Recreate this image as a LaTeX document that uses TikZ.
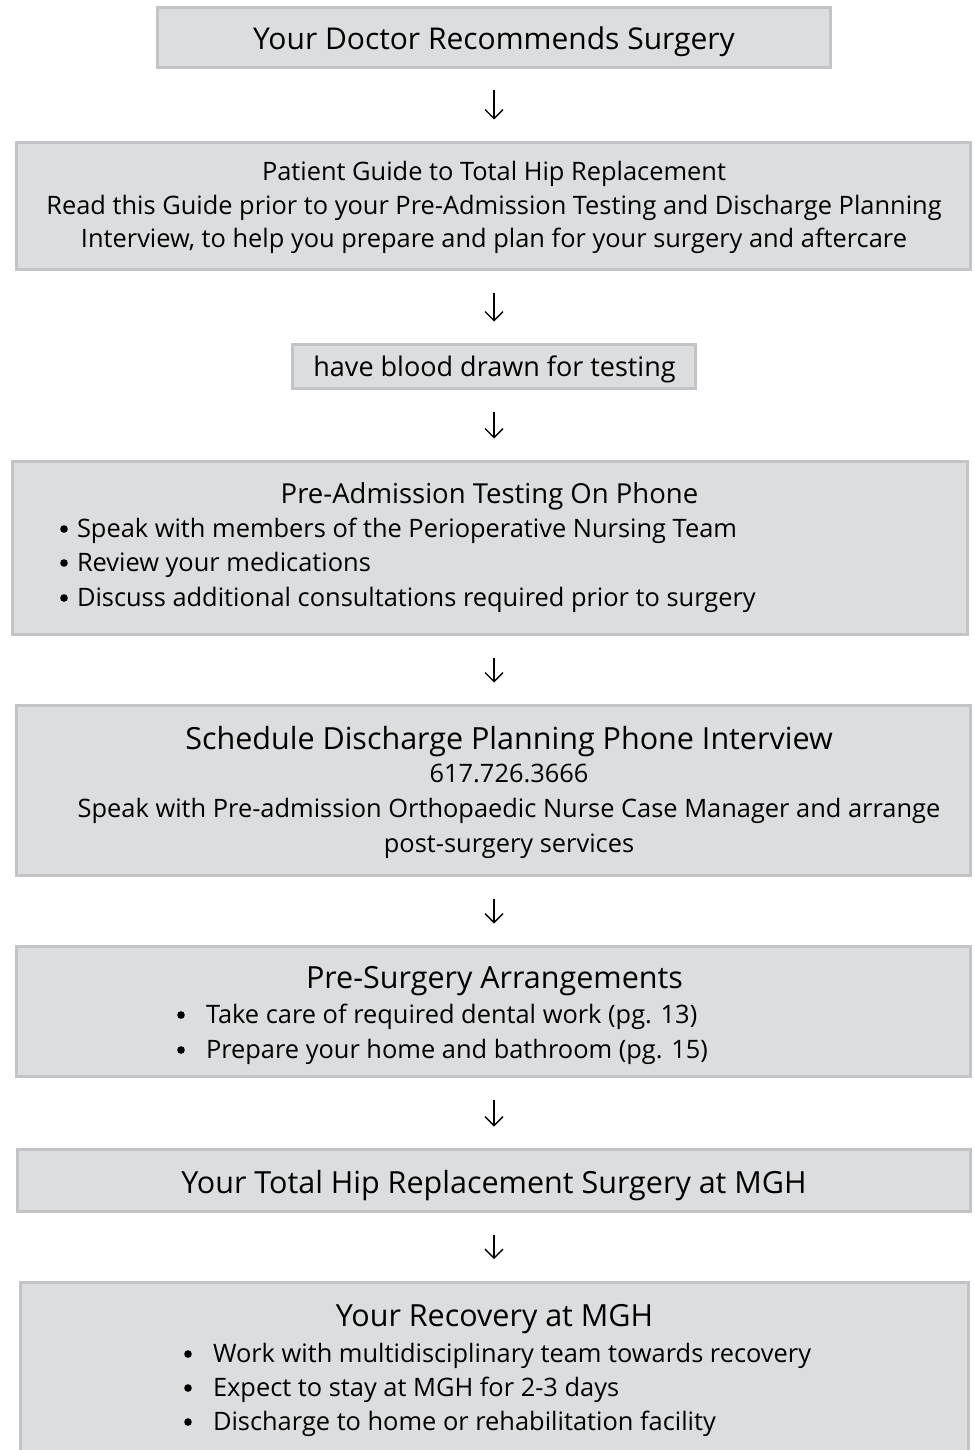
\documentclass[tikz,border=0pt]{standalone}
\usepackage{fontspec}
\setmainfont{Open Sans}
\usetikzlibrary{arrows.meta}
\definecolor{boxfill}{HTML}{DCDDDF}
\definecolor{boxline}{HTML}{C3C4C7}
\newcommand\setfs[1]{\fontsize{#1}{#1}\selectfont}
\begin{document}
\begin{tikzpicture}[x=1pt,y=-1pt,
  box/.style={draw=boxline, fill=boxfill, line width=3pt, inner sep=0pt, outer sep=0pt},
  txt/.style={inner sep=0pt, outer sep=0pt, anchor=mid, text=black},
  ltxt/.style={inner sep=0pt, outer sep=0pt, anchor=mid west, text=black},
  body/.style={font=\setfs{25.4}},
  head/.style={font=\setfs{30.5}},
  dot/.style={fill=black},
  flow/.style={line width=1.3pt, -{Straight Barb[length=9pt,width=18pt]}, shorten <=23pt, shorten >=23pt}]
\useasboundingbox (0,0) rectangle (974,1450);
% boxes
\node[box, minimum width=673pt, minimum height=60pt]  (b1) at (494,37.5) {};
\node[box, minimum width=954pt, minimum height=127pt] (b2) at (493.5,206) {};
\node[box, minimum width=403pt, minimum height=44pt]  (b3) at (494,366.5) {};
\node[box, minimum width=955pt, minimum height=173pt] (b4) at (490,548) {};
\node[box, minimum width=954pt, minimum height=170pt] (b5) at (493.5,790.5) {};
\node[box, minimum width=954pt, minimum height=130pt] (b6) at (493.5,1011.5) {};
\node[box, minimum width=953pt, minimum height=62pt]  (b7) at (494,1180.5) {};
\node[box, minimum width=948pt, minimum height=172pt] (b8) at (494.5,1368) {};
% texts
\node[txt, font=\setfs{30}] (t1) at (494,47) {Your Doctor Recommends Surgery};
\node[txt, body] (t2a) at (494,178) {Patient Guide to Total Hip Replacement};
\node[txt, body] (t2b) at (494,212) {Read this Guide prior to your Pre-Admission Testing and Discharge Planning};
\node[txt, body] (t2c) at (494,245) {Interview, to help you prepare and plan for your surgery and aftercare};
\node[txt, font=\setfs{27}] (t3) at (494.5,374) {have blood drawn for testing};
\node[txt, font=\setfs{27.5}] (t4) at (489.5,501) {Pre-Admission Testing On Phone};
\node[ltxt, body] (t4a) at (77,535) {Speak with members of the Perioperative Nursing Team};
\node[ltxt, body] (t4b) at (77,569) {Review your medications};
\node[ltxt, body] (t4c) at (77,604) {Discuss additional consultations required prior to surgery};
\node[txt, head] (t5) at (509,747) {Schedule Discharge Planning Phone Interview};
\node[txt, body] (t5a) at (509,780) {617.726.3666};
\node[txt, body] (t5b) at (509,815) {Speak with Pre-admission Orthopaedic Nurse Case Manager and arrange};
\node[txt, body] (t5c) at (509,850) {post-surgery services};
\node[txt, head] (t6) at (494.5,986) {Pre-Surgery Arrangements};
\node[ltxt, body] (t6a) at (206,1021) {Take care of required dental work (pg. 13)};
\node[ltxt, body] (t6b) at (206,1056) {Prepare your home and bathroom (pg. 15)};
\node[txt, head] (t7) at (494,1191) {Your Total Hip Replacement Surgery at MGH};
\node[txt, head] (t8) at (494.5,1324) {Your Recovery at MGH};
\node[ltxt, body] (t8a) at (213,1360) {Work with multidisciplinary team towards recovery};
\node[ltxt, body] (t8b) at (213,1394) {Expect to stay at MGH for 2-3 days};
\node[ltxt, body] (t8c) at (213,1428) {Discharge to home or rehabilitation facility};
% bullets
\foreach \t in {t4a,t4b,t4c} \fill[dot] ([xshift=-13pt,yshift=6pt]\t.mid west) circle (3.8pt);
\foreach \t in {t6a,t6b,t8a,t8b,t8c} \fill[dot] ([xshift=-25pt,yshift=6pt]\t.mid west) circle (3.8pt);
% arrows
\draw[flow] (b1.south) -- (b1.south |- b2.north);
\draw[flow] (b3.south |- b2.south) -- (b3.north);
\draw[flow] (b3.south) -- (b3.south |- b4.north);
\draw[flow] (b3.south |- b4.south) -- (b3.south |- b5.north);
\draw[flow] (b3.south |- b5.south) -- (b3.south |- b6.north);
\draw[flow] (b3.south |- b6.south) -- (b3.south |- b7.north);
\draw[flow] (b7.south) -- (b7.south |- b8.north);
\end{tikzpicture}
\end{document}
